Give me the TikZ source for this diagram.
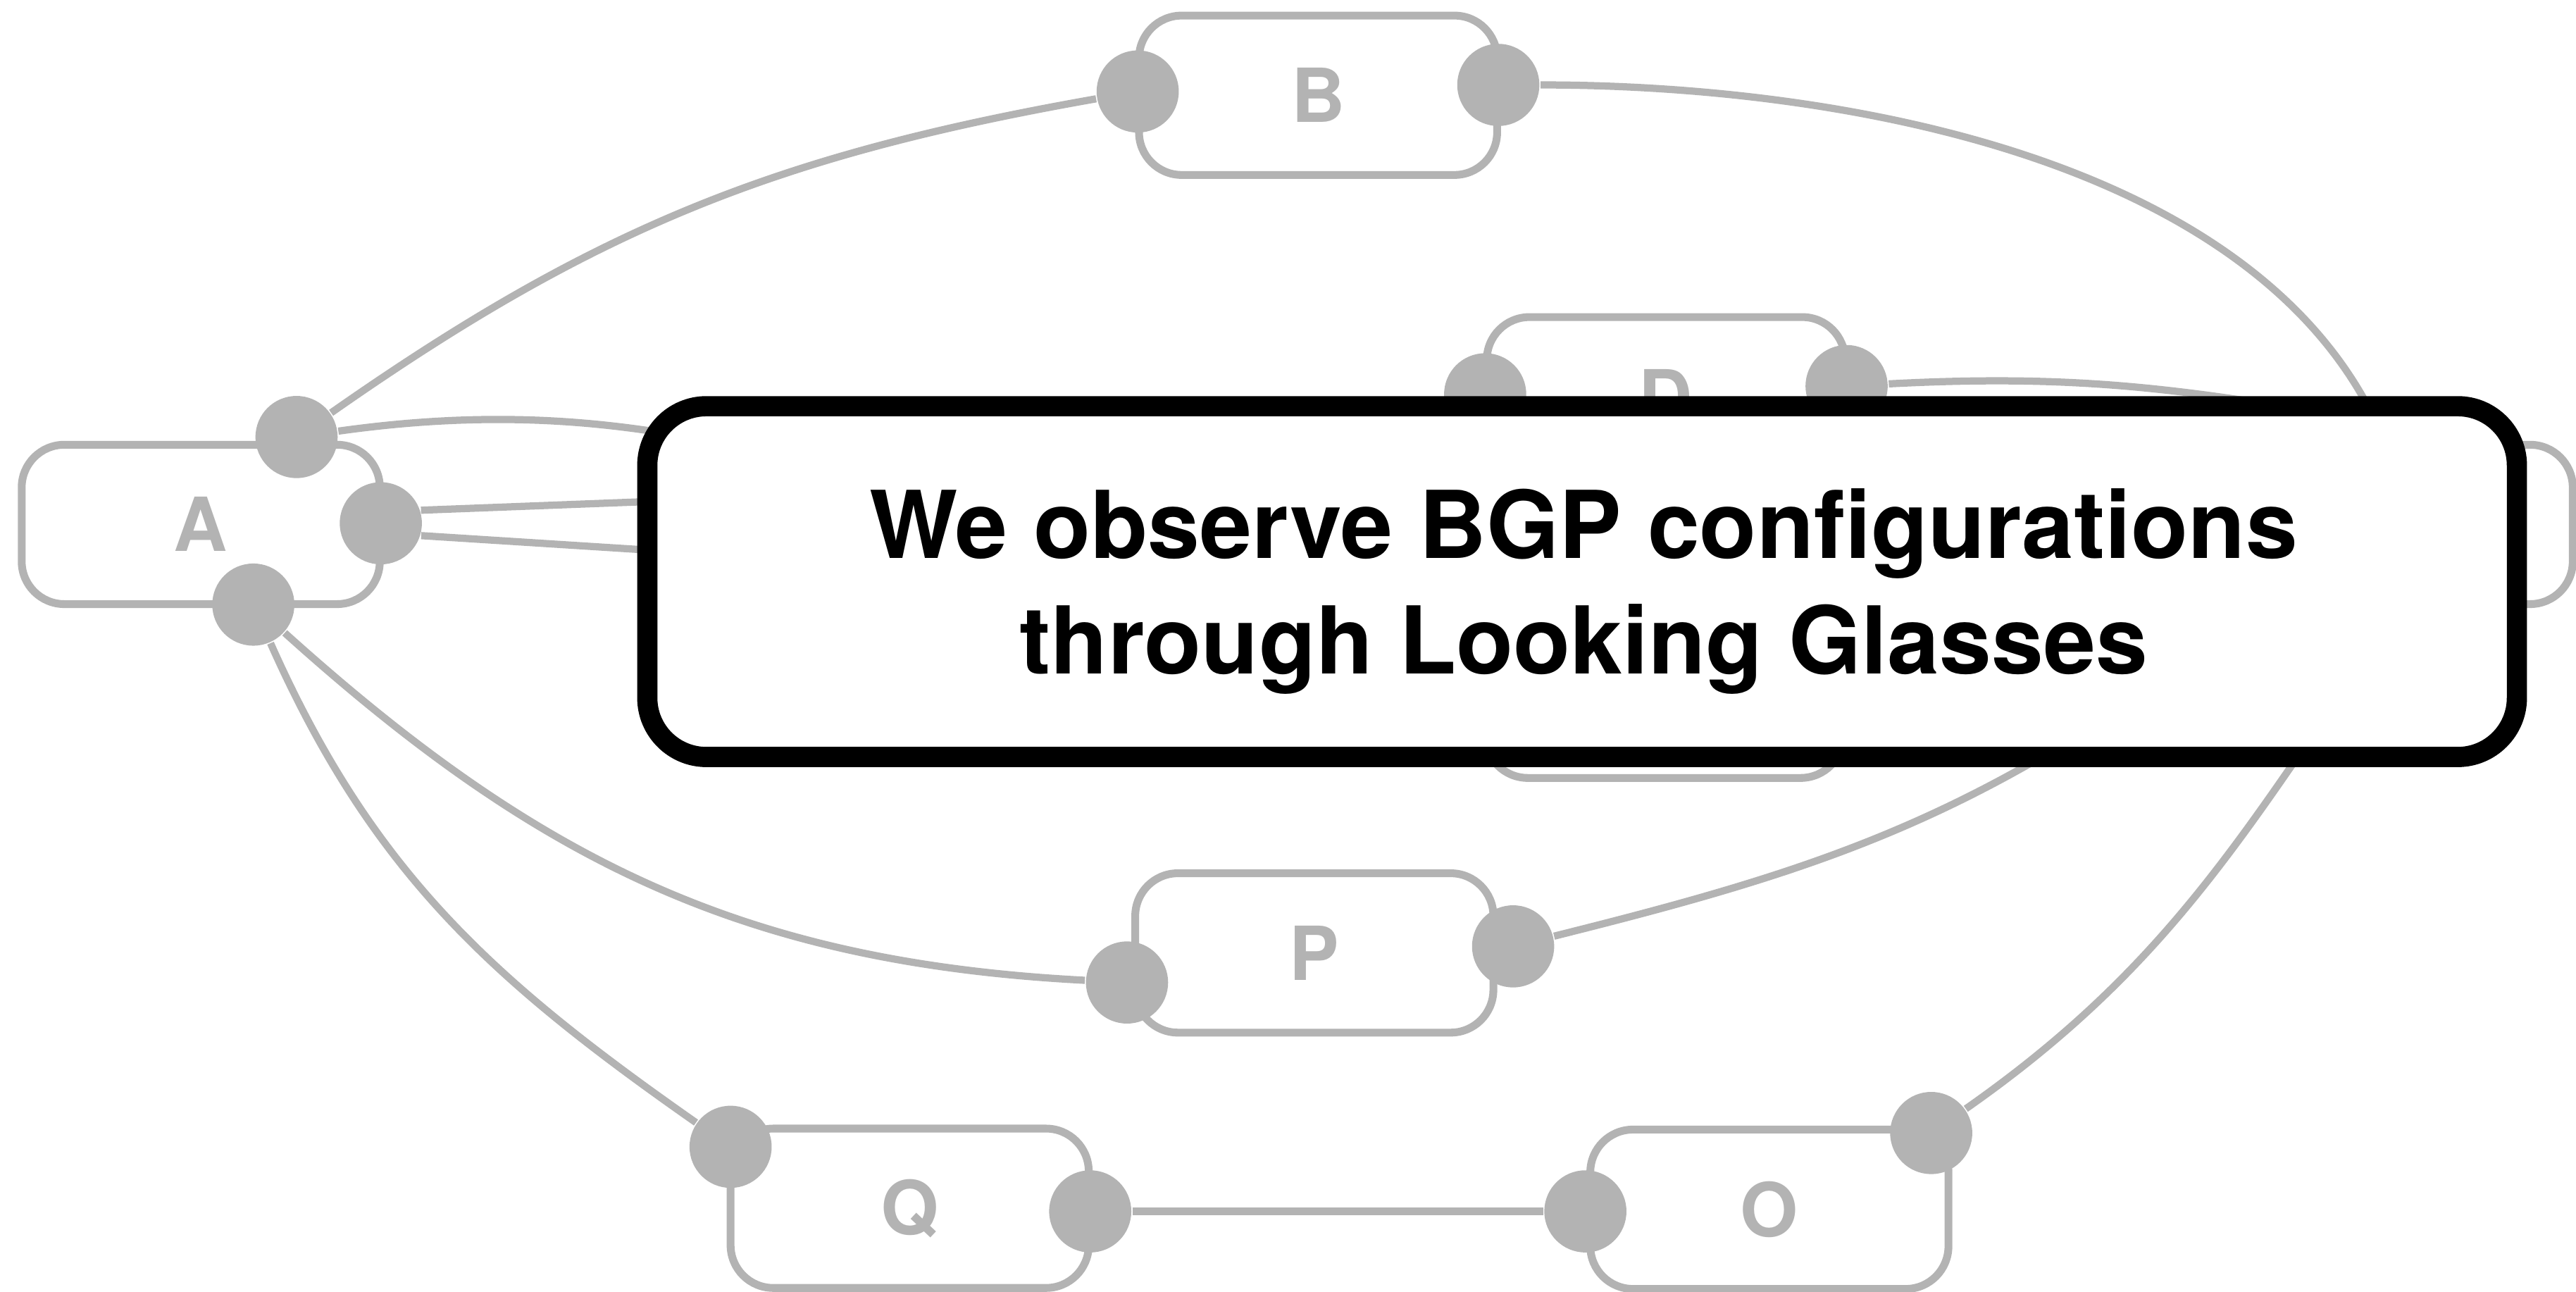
\documentclass[tikz,border=0pt]{standalone}
\usepackage{fontspec}
\setmainfont{TeX Gyre Heros}
\definecolor{lgray}{RGB}{179,179,179}
\pgfdeclarelayer{edges}
\pgfsetlayers{edges,main}
\begin{document}
\begin{tikzpicture}[
	asnode/.style={draw=lgray, line width=1.35pt, fill=white, rounded corners=0.26cm, minimum width=2.18cm, minimum height=0.97cm, inner sep=0pt, text=lgray, font=\bfseries\fontsize{12.9}{14}\selectfont},
	port/.style={circle, fill=lgray, minimum size=0.5cm, inner sep=0pt},
	link/.style={draw=lgray, line width=1.25pt},
	cover/.style={draw=black, line width=3.5pt, fill=white, rounded corners=0.36cm, minimum width=11.38cm, minimum height=2.135cm},
	msgline/.style={anchor=base, inner sep=0pt, font=\bfseries\fontsize{16.2}{19}\selectfont}]
	\useasboundingbox (0,0) rectangle (15.68,7.86);
	% ASes
	\node[asnode] (A) at (1.222,4.668) {A};
	\node[asnode] (B) at (8.023,7.28) {B};
	\node[asnode] (D) at (10.14,5.445) {D};
	\node[asnode] (C) at (10.13,3.61) {};
	\node[asnode] (R) at (14.57,4.668) {};
	\node[asnode] (P) at (8.00,2.06) {P};
	\node[asnode] (Q) at (5.537,0.506) {Q};
	\node[asnode] (O) at (10.77,0.50) {O};
	% routers
	\node[port] (a1) at (1.805,5.20) {};
	\node[port] (a2) at (2.318,4.675) {};
	\node[port] (a3) at (1.542,4.18) {};
	\node[port] (b1) at (6.925,7.303) {};
	\node[port] (b2) at (9.12,7.343) {};
	\node[port] (d1) at (9.04,5.46) {};
	\node[port] (d2) at (11.24,5.51) {};
	\node[port] (p1) at (6.86,1.88) {};
	\node[port] (p2) at (9.21,2.10) {};
	\node[port] (q1) at (4.447,0.88) {};
	\node[port] (q2) at (6.636,0.487) {};
	\node[port] (o1) at (9.65,0.487) {};
	\node[port] (o2) at (11.755,0.964) {};
	\coordinate (c1) at (6.50,4.60);
	\coordinate (r1) at (14.52,5.16);
	\coordinate (r2) at (14.40,5.30);
	\coordinate (r3) at (13.20,3.75);
	\coordinate (r4) at (14.62,4.18);
	\coordinate (h1) at (9.00,5.00);
	\coordinate (h2) at (9.00,4.19);
	% sessions
	\begin{pgfonlayer}{edges}
		\draw[link] (a1) to[out=35,in=190] (b1);
		\draw[link] (b2) to[out=0,in=112,looseness=0.85] (r1);
		\draw[link] (a1) to[out=8,in=165] (c1);
		\draw[link] (a2.18) -- (h1);
		\draw[link] (a2.-17) -- (h2);
		\draw[link] (a3) to[out=-66,in=145] (q1);
		\draw[link] (a3) to[out=-42,in=177] (p1);
		\draw[link] (p2) to[out=14,in=215] (r3);
		\draw[link] (o2) to[out=35,in=235] (r4);
		\draw[link] (q2) -- (o1);
		\draw[link] (d2) to[out=3,in=170] (r2);
	\end{pgfonlayer}
	% message
	\node[cover] (msg) at (9.63,4.32) {};
	\node[msgline] (l1) at (9.64,4.46) {We observe BGP configurations};
	\node[msgline] (l2) at (9.64,3.76) {through Looking Glasses};
\end{tikzpicture}
\end{document}
